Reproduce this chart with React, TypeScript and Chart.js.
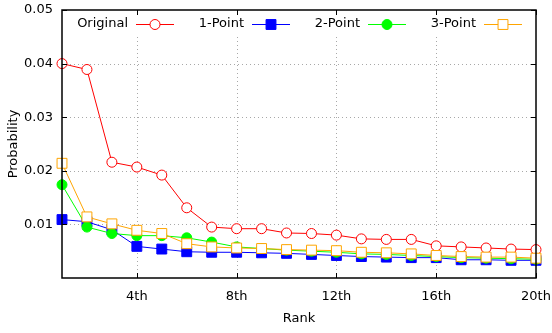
import React, { useEffect, useRef } from "react";
import { Chart, registerables } from "chart.js";

Chart.register(...registerables);

// Rank positions 1..20
const ranks = [1, 2, 3, 4, 5, 6, 7, 8, 9, 10, 11, 12, 13, 14, 15, 16, 17, 18, 19, 20];
const xTickValues = [4, 8, 12, 16, 20];
const yTickValues = [0.01, 0.02, 0.03, 0.04, 0.05];

const seriesNames = ["Original", "1-Point", "2-Point", "3-Point"];
const original = [
  0.04, 0.0389, 0.0216, 0.0207, 0.0192, 0.0131, 0.0095, 0.0092, 0.0092, 0.0084,
  0.0083, 0.008, 0.0073, 0.0072, 0.0072, 0.006, 0.0058, 0.0056, 0.0054, 0.0053,
];
const onePoint = [
  0.0109, 0.0105, 0.009, 0.0059, 0.0054, 0.0049, 0.0048, 0.0048, 0.0047, 0.0046,
  0.0044, 0.0042, 0.004, 0.0039, 0.0038, 0.0038, 0.0034, 0.0034, 0.0033, 0.0033,
];
const twoPoint = [
  0.0174, 0.0095, 0.0083, 0.0079, 0.0079, 0.0075, 0.0067, 0.0058, 0.0055, 0.0052,
  0.005, 0.0048, 0.0045, 0.0044, 0.0042, 0.004, 0.0038, 0.0037, 0.0036, 0.0035,
];
const threePoint = [
  0.0214, 0.0114, 0.0101, 0.0089, 0.0083, 0.0064, 0.0058, 0.0056, 0.0055, 0.0053,
  0.0052, 0.0051, 0.0048, 0.0047, 0.0045, 0.0042, 0.004, 0.0039, 0.0039, 0.0037,
];

const xTitle = "Rank";
const yTitle = "Probability";

const FONT_FAMILY = '"DejaVu Sans", Verdana, sans-serif';
const FONT_SIZE = 13;

const toPoints = (vals: number[]) => vals.map((y, i) => ({ x: ranks[i], y }));

function drawMarker(
  ctx: CanvasRenderingContext2D,
  style: string,
  x: number,
  y: number,
  r: number,
  fill: string,
  stroke: string
) {
  ctx.save();
  ctx.beginPath();
  if (style === "rect") {
    const h = r * Math.SQRT1_2;
    ctx.rect(x - h, y - h, 2 * h, 2 * h);
  } else {
    ctx.arc(x, y, r, 0, Math.PI * 2);
  }
  ctx.fillStyle = fill;
  ctx.fill();
  ctx.lineWidth = 1;
  ctx.strokeStyle = stroke;
  ctx.stroke();
  ctx.restore();
}

// Dotted grid behind the data
const gridPlugin = {
  id: "dottedGrid",
  beforeDatasetsDraw(chart: any) {
    const { ctx, chartArea: a, scales } = chart;
    ctx.save();
    ctx.strokeStyle = "#a8a8a8";
    ctx.lineWidth = 1;
    ctx.setLineDash([1, 3]);
    xTickValues.forEach((v) => {
      const px = Math.round(scales.x.getPixelForValue(v)) + 0.5;
      if (px > a.right - 2) return;
      ctx.beginPath();
      ctx.moveTo(px, a.bottom);
      ctx.lineTo(px, a.top);
      ctx.stroke();
    });
    yTickValues.forEach((v) => {
      const py = Math.round(scales.y.getPixelForValue(v)) + 0.5;
      if (py < a.top + 2) return;
      ctx.beginPath();
      ctx.moveTo(a.left, py);
      ctx.lineTo(a.right, py);
      ctx.stroke();
    });
    ctx.restore();
  },
};

// Key, border, inward tick marks and axis titles on top
const framePlugin = {
  id: "frameAndKey",
  afterDatasetsDraw(chart: any) {
    const { ctx, chartArea: a, scales } = chart;
    ctx.save();

    // key
    ctx.fillStyle = "#ffffff";
    ctx.fillRect(72, 15, 458, 19);
    ctx.font = `${FONT_SIZE}px ${FONT_FAMILY}`;
    ctx.textBaseline = "middle";
    ctx.textAlign = "right";
    const ky = 24;
    chart.data.datasets.forEach((ds: any, i: number) => {
      const right = 128 + 116 * i;
      ctx.fillStyle = "#000000";
      ctx.fillText(ds.label, right, ky);
      ctx.strokeStyle = ds.borderColor;
      ctx.lineWidth = 1;
      ctx.beginPath();
      ctx.moveTo(right + 8, ky + 0.5);
      ctx.lineTo(right + 46, ky + 0.5);
      ctx.stroke();
      drawMarker(
        ctx,
        ds.pointStyle,
        right + 27,
        ky + 0.5,
        ds.pointRadius,
        ds.pointBackgroundColor,
        ds.pointBorderColor
      );
    });

    // tick marks (inward, mirrored)
    ctx.strokeStyle = "#000000";
    ctx.lineWidth = 1;
    const tl = 5;
    xTickValues.forEach((v) => {
      const px = Math.round(scales.x.getPixelForValue(v)) + 0.5;
      ctx.beginPath();
      ctx.moveTo(px, a.bottom);
      ctx.lineTo(px, a.bottom - tl);
      ctx.moveTo(px, a.top);
      ctx.lineTo(px, a.top + tl);
      ctx.stroke();
    });
    yTickValues.forEach((v) => {
      const py = Math.round(scales.y.getPixelForValue(v)) + 0.5;
      ctx.beginPath();
      ctx.moveTo(a.left, py);
      ctx.lineTo(a.left + tl, py);
      ctx.moveTo(a.right, py);
      ctx.lineTo(a.right - tl, py);
      ctx.stroke();
    });

    // border
    ctx.lineWidth = 1.5;
    ctx.strokeStyle = "#000000";
    ctx.strokeRect(a.left, a.top, a.right - a.left, a.bottom - a.top);

    // axis titles
    ctx.fillStyle = "#000000";
    ctx.textAlign = "center";
    ctx.textBaseline = "middle";
    ctx.fillText(xTitle, (a.left + a.right) / 2, 319);
    ctx.translate(14, (a.top + a.bottom) / 2);
    ctx.rotate(-Math.PI / 2);
    ctx.fillText(yTitle, 0, 0);
    ctx.restore();
  },
};

export default function App() {
  const canvasRef = useRef<HTMLCanvasElement | null>(null);

  useEffect(() => {
    const canvas = canvasRef.current;
    if (!canvas) return;

    const chart = new Chart(canvas, {
      type: "line",
      data: {
        datasets: [
          {
            label: seriesNames[0],
            data: toPoints(original),
            borderColor: "#ff0000",
            pointStyle: "circle",
            pointRadius: 5,
            pointBackgroundColor: "#ffffff",
            pointBorderColor: "#ff0000",
            order: 3,
          },
          {
            label: seriesNames[1],
            data: toPoints(onePoint),
            borderColor: "#0000ff",
            pointStyle: "rect",
            pointRadius: 7,
            pointBackgroundColor: "#0000ff",
            pointBorderColor: "#0000ff",
            order: 2,
          },
          {
            label: seriesNames[2],
            data: toPoints(twoPoint),
            borderColor: "#00ff00",
            pointStyle: "circle",
            pointRadius: 5,
            pointBackgroundColor: "#00ff00",
            pointBorderColor: "#00ff00",
            order: 1,
          },
          {
            label: seriesNames[3],
            data: toPoints(threePoint),
            borderColor: "#ffa500",
            pointStyle: "rect",
            pointRadius: 7,
            pointBackgroundColor: "#ffffff",
            pointBorderColor: "#ffa500",
            order: 0,
          },
        ].map((d) => ({
          ...d,
          borderWidth: 1,
          pointBorderWidth: 1,
          tension: 0,
          fill: false,
          clip: false as any,
        })),
      },
      options: {
        animation: false,
        responsive: false,
        maintainAspectRatio: false,
        layout: { padding: { top: 10, right: 16, left: 0, bottom: 0 } },
        plugins: {
          legend: { display: false },
          tooltip: { enabled: false },
        },
        scales: {
          x: {
            type: "linear",
            min: 1,
            max: 20,
            grid: { display: false, drawTicks: false },
            border: { display: false },
            afterBuildTicks: (scale: any) => {
              scale.ticks = xTickValues.map((v) => ({ value: v }));
            },
            afterFit: (scale: any) => {
              scale.height = 55;
              scale.paddingLeft = 0;
              scale.paddingRight = 0;
            },
            ticks: {
              padding: 11,
              color: "#000000",
              font: { family: FONT_FAMILY, size: FONT_SIZE },
              maxRotation: 0,
              autoSkip: false,
              callback: (v: any) => `${v}th`,
            },
          },
          y: {
            type: "linear",
            min: 0,
            max: 0.05,
            grid: { display: false, drawTicks: false },
            border: { display: false },
            afterBuildTicks: (scale: any) => {
              scale.ticks = yTickValues.map((v) => ({ value: v }));
            },
            afterFit: (scale: any) => {
              scale.width = 62;
              scale.paddingTop = 0;
              scale.paddingBottom = 0;
            },
            ticks: {
              padding: 9,
              color: "#000000",
              font: { family: FONT_FAMILY, size: FONT_SIZE },
              autoSkip: false,
              callback: (v: any) => Number(v).toFixed(2),
            },
          },
        },
      },
      plugins: [gridPlugin, framePlugin],
    });

    return () => chart.destroy();
  }, []);

  return (
    <div style={{ position: "fixed", left: 0, top: 0, width: 552, height: 333, background: "#ffffff" }}>
      <canvas ref={canvasRef} width={552} height={333} style={{ display: "block", width: 552, height: 333 }} />
    </div>
  );
}
